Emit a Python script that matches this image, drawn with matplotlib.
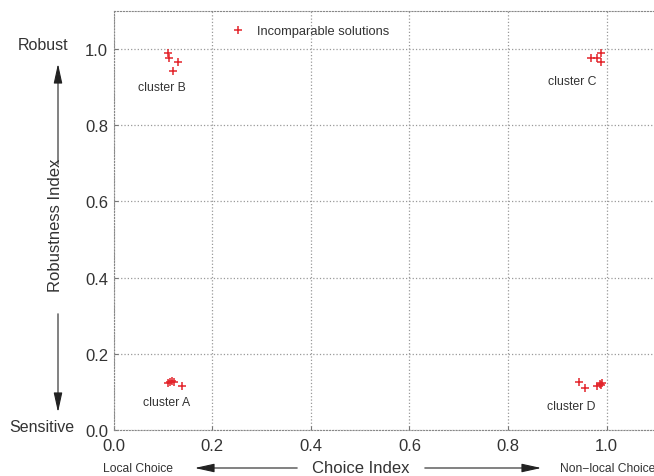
import matplotlib
matplotlib.use("Agg")
import matplotlib.pyplot as plt
from matplotlib.patches import FancyArrowPatch

plt.rcParams['font.family'] = ['Liberation Sans', 'DejaVu Sans']

# cluster points (choice index, robustness index)
cluster_a_x = [0.110, 0.114, 0.119, 0.122, 0.138]
cluster_a_y = [0.123, 0.125, 0.129, 0.125, 0.116]
cluster_b_x = [0.110, 0.112, 0.130, 0.120]
cluster_b_y = [0.990, 0.976, 0.966, 0.942]
cluster_c_x = [0.968, 0.980, 0.989, 0.989]
cluster_c_y = [0.976, 0.977, 0.988, 0.966]
cluster_d_x = [0.944, 0.957, 0.980, 0.986, 0.990, 0.989]
cluster_d_y = [0.126, 0.109, 0.116, 0.120, 0.123, 0.118]

cluster_names = ['cluster A', 'cluster B', 'cluster C', 'cluster D']
label_pos = [(0.107, 0.073), (0.097, 0.900), (0.930, 0.916), (0.929, 0.063)]

ticks = [0.0, 0.2, 0.4, 0.6, 0.8, 1.0]

xs = cluster_a_x + cluster_b_x + cluster_c_x + cluster_d_x
ys = cluster_a_y + cluster_b_y + cluster_c_y + cluster_d_y

fig = plt.figure(figsize=(6.54, 4.77), dpi=100)
ax = fig.add_axes([0.1739, 0.0964, 0.829, 0.879])

red = '#e3242b'
ax.plot(xs, ys, '+', color=red, markersize=6, mew=1.1, linestyle='none',
        label='Incomparable solutions')

for name, (lx, ly) in zip(cluster_names, label_pos):
    ax.text(lx, ly, name, fontsize=8.8, color='#333333', ha='center', va='center')

ax.set_xlim(0, 1.1)
ax.set_ylim(0, 1.1)
ax.set_xticks(ticks)
ax.set_yticks(ticks)
ax.set_xticklabels(['%.1f' % t for t in ticks])
ax.set_yticklabels(['%.1f' % t for t in ticks])
ax.tick_params(direction='in', length=3, color='#777777', labelsize=12,
               labelcolor='#333333')
ax.tick_params(axis='x', pad=6)
ax.tick_params(axis='y', pad=4)
ax.grid(True, linestyle=':', color='#999999', linewidth=0.9)
for s in ['left', 'bottom', 'top', 'right']:
    ax.spines[s].set_color('#888888')
    ax.spines[s].set_linewidth(0.8)
    ax.spines[s].set_linestyle(':')

leg = ax.legend(loc='upper left', bbox_to_anchor=(0.196, 0.993), frameon=False,
                fontsize=9.3, handlelength=1.0, handletextpad=1.0)
for t in leg.get_texts():
    t.set_color('#333333')

# axis annotations in figure pixels
W, H = 654.0, 477.0
def fx(px):
    return px / W
def fy(py):
    return 1 - py / H

arrow = dict(arrowstyle='-|>,head_length=1.0,head_width=0.22', color='#222222',
             lw=0.8, mutation_scale=12, transform=fig.transFigure)

# y side
fig.text(fx(56), fy(225), 'Robustness Index', rotation=90, fontsize=12,
         color='#333333', ha='center', va='center')
fig.text(fx(43), fy(45), 'Robust', fontsize=11.5, color='#333333', ha='center', va='center')
fig.text(fx(42), fy(428), 'Sensitive', fontsize=11.5, color='#333333', ha='center', va='center')
fig.add_artist(FancyArrowPatch((fx(58), fy(168)), (fx(58), fy(62)), **arrow))
fig.add_artist(FancyArrowPatch((fx(58), fy(312)), (fx(58), fy(416)), **arrow))

# x side
fig.text(fx(361), fy(469), 'Choice Index', fontsize=12, color='#333333', ha='center', va='center')
fig.text(fx(103), fy(469), 'Local Choice', fontsize=8.7, color='#333333', ha='left', va='center')
fig.text(fx(560), fy(469), 'Non\u2212local Choice', fontsize=8.7, color='#333333', ha='left', va='center')
fig.add_artist(FancyArrowPatch((fx(300), fy(469)), (fx(192), fy(469)), **arrow))
fig.add_artist(FancyArrowPatch((fx(422), fy(469)), (fx(544), fy(469)), **arrow))

fig.savefig('out.png', dpi=100)
